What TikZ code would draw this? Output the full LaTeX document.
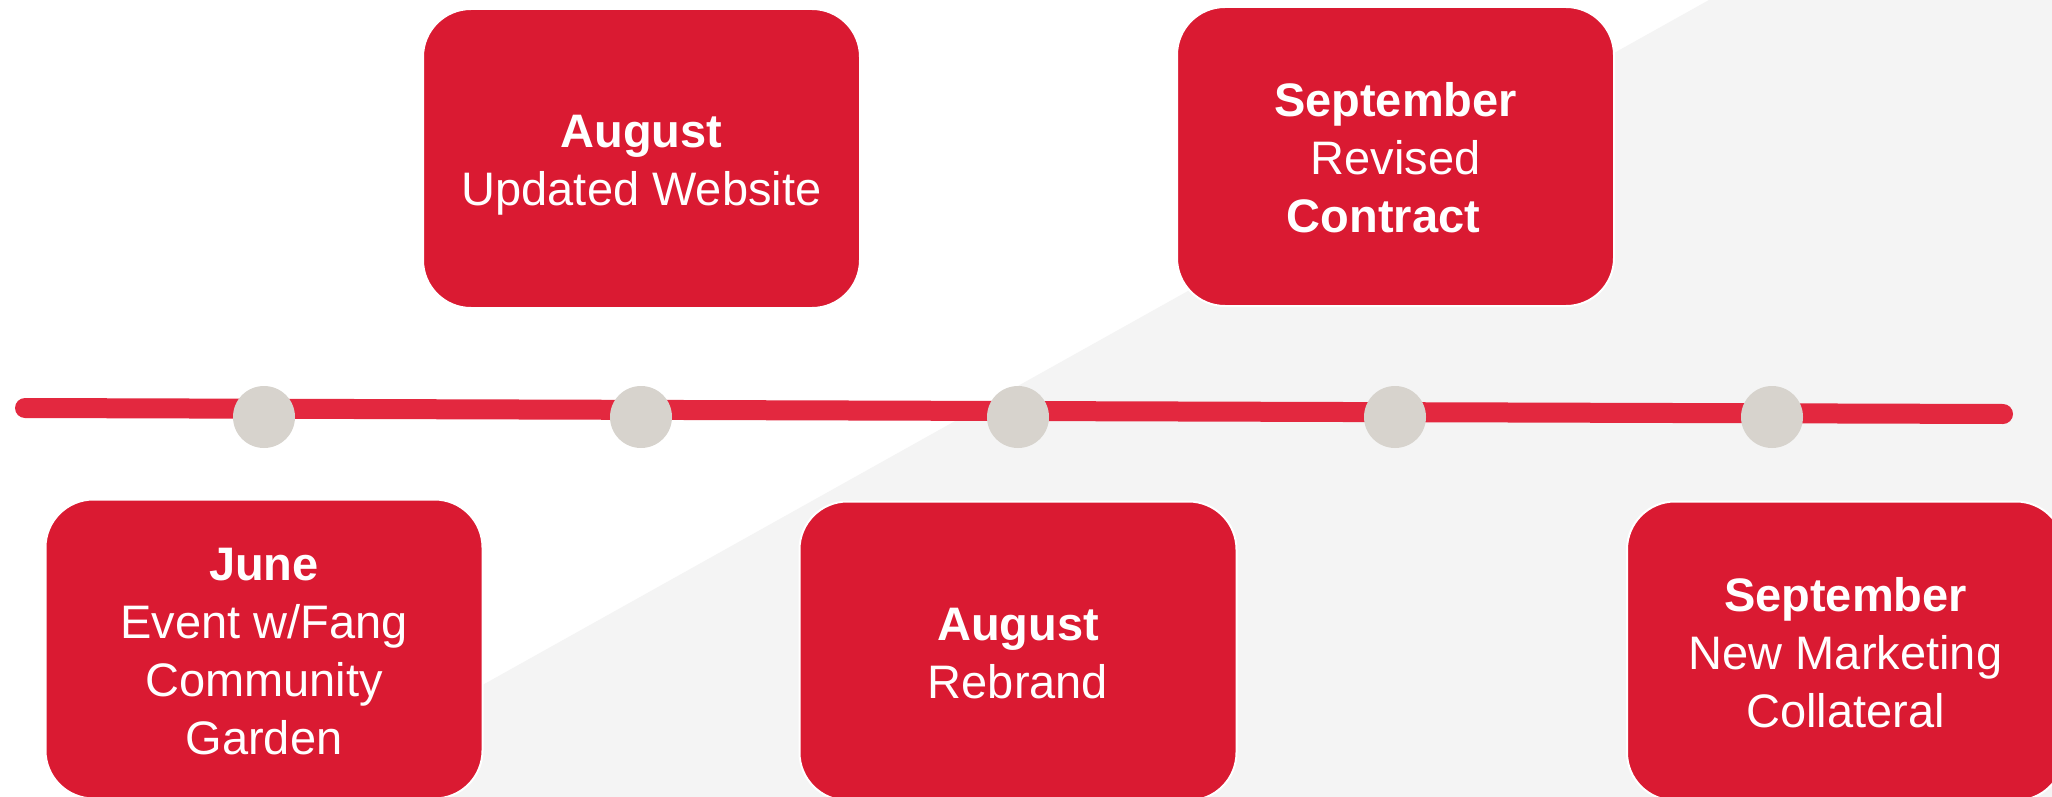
\documentclass[tikz,border=0pt]{standalone}
\usepackage{fontspec}
\setmainfont{Liberation Sans}
\definecolor{boxred}{HTML}{DA1A32}
\definecolor{linered}{HTML}{E3283F}
\definecolor{dotgray}{HTML}{D7D3CD}
\definecolor{bggray}{HTML}{F4F4F4}
\newcommand\ls{\rule[-5.5pt]{0pt}{29pt}}
\begin{document}
\begin{tikzpicture}[x=0.5pt,y=-0.5pt,
  eventbox/.style={rectangle, rounded corners=24pt, fill=boxred, draw=white,
    line width=1pt, minimum width=218.5pt, minimum height=149.5pt, inner sep=0pt,
    align=center, text=white, font=\fontsize{23.5pt}{29pt}\selectfont},
  tldot/.style={circle, fill=dotgray, minimum size=31pt, inner sep=0pt},
  timeline/.style={draw=linered, line width=10pt, line cap=round}]
\useasboundingbox (0,0) rectangle (2052,797);
\clip (0,0) rectangle (2052,797);
% background
\fill[white] (0,0) rectangle (2052,797);
\fill[bggray] (1709,0) -- (2052,0) -- (2052,797) -- (282,797) -- cycle;
% timeline
\coordinate (tlA) at (25,408);
\coordinate (tlB) at (2003,414);
\draw[timeline] (tlA) -- (tlB);
\node[tldot] (d1) at (264,417) {};
\node[tldot] (d2) at (641,417) {};
\node[tldot] (d3) at (1018,417) {};
\node[tldot] (d4) at (1395,417) {};
\node[tldot] (d5) at (1772,417) {};
% top boxes
\node[eventbox] (b1) at (641.5,158.5) {\ls\textbf{August}\\\ls Updated Website};
\node[eventbox] (b2) at (1395.5,156.5) {\ls\textbf{September}\\\ls Revised\\\ls\textbf{Contract}\hspace*{12pt}};
% bottom boxes
\node[eventbox] (b3) at (264,649) {\ls\textbf{June}\\\ls Event w/Fang\\\ls Community\\\ls Garden};
\node[eventbox] (b4) at (1018,651) {\ls\textbf{August}\\\ls Rebrand};
\node[eventbox] (b5) at (1845.5,651) {\ls\textbf{September}\\\ls New Marketing\\\ls Collateral};
\end{tikzpicture}
\end{document}
